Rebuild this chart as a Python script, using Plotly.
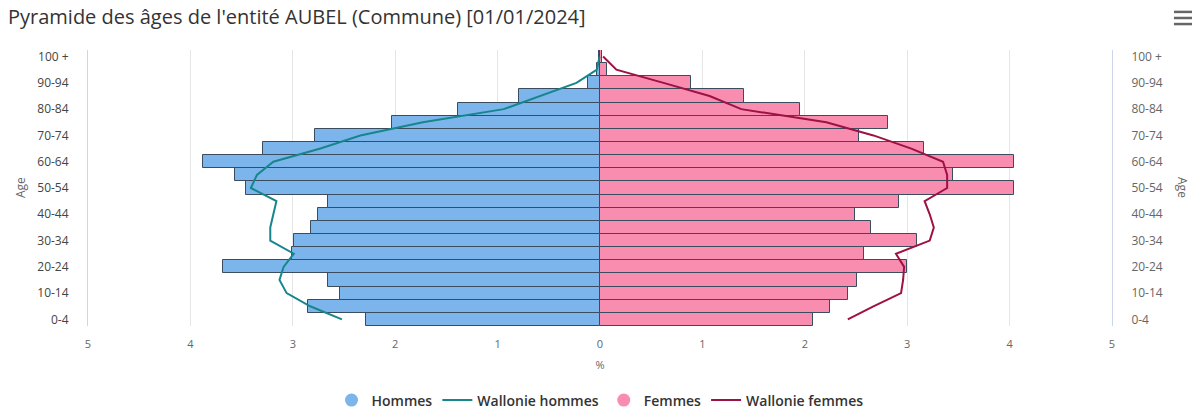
import plotly.graph_objects as go

ages = ["0-4", "5-9", "10-14", "15-19", "20-24", "25-29", "30-34", "35-39", "40-44",
        "45-49", "50-54", "55-59", "60-64", "65-69", "70-74", "75-79", "80-84",
        "85-89", "90-94", "95-99", "100 +"]
age_ticks = ages[::2]

hommes = [2.29, 2.85, 2.54, 2.66, 3.68, 3.01, 2.99, 2.82, 2.75, 2.66, 3.46, 3.56,
          3.88, 3.29, 2.78, 2.03, 1.39, 0.79, 0.12, 0.03, 0.005]
femmes = [2.08, 2.25, 2.42, 2.51, 3.00, 2.58, 3.10, 2.65, 2.49, 2.92, 4.04, 3.45,
          4.04, 3.16, 2.53, 2.81, 1.95, 1.41, 0.89, 0.07, 0.02]
wal_hommes = [2.52, 2.83, 3.06, 3.13, 3.09, 2.99, 3.22, 3.22, 3.19, 3.16, 3.41, 3.35,
              3.19, 2.73, 2.34, 1.73, 0.94, 0.58, 0.23, 0.03, 0.005]
wal_femmes = [2.42, 2.67, 2.94, 2.96, 2.97, 2.89, 3.22, 3.26, 3.22, 3.17, 3.39, 3.39,
              3.35, 3.04, 2.67, 2.21, 1.38, 1.07, 0.62, 0.16, 0.03]

x_ticks = [-5, -4, -3, -2, -1, 0, 1, 2, 3, 4, 5]
x_labels = [str(abs(v)) for v in x_ticks]

BLUE = "#7cb5ec"
PINK = "#f98db0"
TEAL = "#17868c"
DRED = "#9e1144"
BORDER = "#3b4c5e"
FONT = "Open Sans, sans-serif"

fig = go.Figure()
fig.add_trace(go.Bar(y=ages, x=[-v for v in hommes], orientation="h", width=1,
                     marker=dict(color=BLUE, line=dict(color=BORDER, width=1)),
                     showlegend=False, name="Hommes"))
fig.add_trace(go.Bar(y=ages, x=femmes, orientation="h", width=1,
                     marker=dict(color=PINK, line=dict(color=BORDER, width=1)),
                     showlegend=False, name="Femmes"))
fig.add_trace(go.Scatter(y=ages, x=[-v for v in wal_hommes], mode="lines",
                         line=dict(color=TEAL, width=2), showlegend=False))
fig.add_trace(go.Scatter(y=ages, x=wal_femmes, mode="lines",
                         line=dict(color=DRED, width=2), showlegend=False))
# right-side category axis carrier
fig.add_trace(go.Scatter(y=ages, x=[None] * len(ages), yaxis="y2", mode="markers",
                         showlegend=False, hoverinfo="skip"))
# legend entries
fig.add_trace(go.Scatter(x=[None], y=[None], mode="markers", name="Hommes",
                         marker=dict(symbol="circle", size=13, color=BLUE)))
fig.add_trace(go.Scatter(x=[None], y=[None], mode="lines", name="Wallonie hommes",
                         line=dict(color=TEAL, width=2)))
fig.add_trace(go.Scatter(x=[None], y=[None], mode="markers", name="Femmes",
                         marker=dict(symbol="circle", size=13, color=PINK)))
fig.add_trace(go.Scatter(x=[None], y=[None], mode="lines", name="Wallonie femmes",
                         line=dict(color=DRED, width=2)))

axis_font = dict(family=FONT, size=11, color="#666666")

# export-menu icon (decorative)
shapes = [dict(type="line", xref="paper", yref="paper", x0=1.0605, x1=1.08,
               y0=yv, y1=yv, line=dict(color="#666666", width=2.5))
          for yv in (1.138, 1.116, 1.094)]

fig.update_layout(
    width=1192, height=412,
    margin=dict(l=88, r=80, t=50, b=86, autoexpand=False),
    paper_bgcolor="white", plot_bgcolor="white",
    barmode="overlay", bargap=0,
    title=dict(text="Pyramide des âges de l'entité AUBEL (Commune) [01/01/2024]",
               x=0.0067, xanchor="left", y=0.958, yanchor="middle",
               font=dict(family=FONT, size=20, color="#333333")),
    xaxis=dict(range=[-5, 5], tickvals=x_ticks, ticktext=x_labels, zeroline=False,
               showgrid=True, gridcolor="#e6e6e6", gridwidth=1, showline=False,
               ticks="", tickfont=axis_font, automargin=False, ticklabelstandoff=10,
               title=dict(text="%", font=axis_font, standoff=11)),
    yaxis=dict(type="category", categoryorder="array", categoryarray=ages,
               range=[-0.5, 20.5], tickvals=age_ticks, showgrid=False, automargin=False,
               showline=True, linecolor="#ccd6eb", ticks="", ticklabelstandoff=16,
               tickfont=dict(family=FONT, size=12, color="#444444"),
               zeroline=False),
    yaxis2=dict(type="category", categoryorder="array", categoryarray=ages,
                range=[-0.5, 20.5], tickvals=age_ticks, overlaying="y", side="right",
                showgrid=False, showline=True, linecolor="#ccd6eb", ticks="",
                ticklabelstandoff=16, automargin=False,
                tickfont=dict(family=FONT, size=12, color="#666666"),
                zeroline=False),
    legend=dict(orientation="h", x=0.5, xanchor="center", y=-0.27, yanchor="middle",
                font=dict(family=FONT, size=14, color="#333333", weight=600),
                itemwidth=30, traceorder="normal"),
    shapes=shapes,
    annotations=[
        dict(text="Age", xref="paper", yref="paper", x=-0.0664, y=0.5, showarrow=False,
             xanchor="center", textangle=-90, font=dict(family=FONT, size=12, color="#666666")),
        dict(text="Age", xref="paper", yref="paper", x=1.0693, y=0.5, showarrow=False,
             xanchor="center", textangle=90, font=dict(family=FONT, size=12, color="#666666")),
    ],
)

fig.write_html("out.html", config={"displayModeBar": False},
               post_script="document.body.style.margin='0';document.body.style.overflow='hidden';")
